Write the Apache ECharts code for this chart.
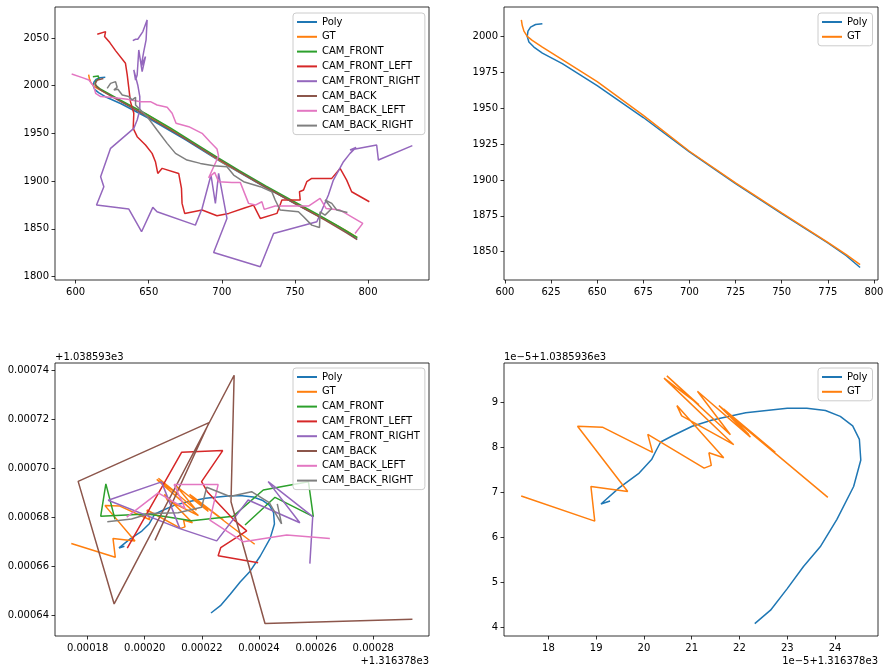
<!DOCTYPE html>
<html><head><meta charset="utf-8">
<script src="https://cdn.jsdelivr.net/npm/echarts@6/dist/echarts.min.js"></script>
<style>html,body{margin:0;padding:0;background:#fff}#c{width:883px;height:667px}</style>
</head><body><div id="c"></div>
<script>
// ---------- series names / colours ----------
const names = ['Poly','GT','CAM_FRONT','CAM_FRONT_LEFT','CAM_FRONT_RIGHT','CAM_BACK','CAM_BACK_LEFT','CAM_BACK_RIGHT'];
const colors = ['#1f77b4','#ff7f0e','#2ca02c','#d62728','#9467bd','#8c564b','#e377c2','#7f7f7f'];

// ---------- top plots (raw coordinates) ----------
const polyTop = [[620.3,2008.8],[616.6,2008.3],[613.9,2006.5],[612.5,2003.7],[612.1,2000.0],[613.0,1996.1],[615.7,1992.6],[620.3,1988.4],[631.1,1981.0],[650.0,1965.8],[675.0,1943.5],[700.0,1919.5],[725.0,1897.5],[750.0,1876.5],[775.0,1856.2],[785.0,1847.2],[792.5,1839.0]];
const gtTop = [[608.9,2011.6],[609.4,2007.6],[610.3,2003.7],[612.1,2000.0],[614.8,1997.2],[620.3,1992.6],[631.1,1983.8],[650.0,1968.5],[675.0,1945.0],[700.0,1920.0],[725.0,1898.0],[750.0,1877.0],[775.0,1856.5],[785.0,1848.0],[792.5,1841.0]];
const frontTop = [[611.8,2009.4],[615.5,2010.1],[615.9,2007.0],[613.9,2005.2],[613.4,2000.7],[617.1,1996.2],[630.0,1985.2],[648.0,1970.6],[665.0,1955.4],[683.0,1938.2],[697.0,1924.8],[712.0,1910.8],[730.0,1895.0],[748.0,1879.8],[765.0,1865.6],[780.0,1852.6],[792.7,1840.8]];
const frontLeftTop = [[614.8,2053.8],[620.5,2056.6],[619.8,2051.4],[623.4,2045.1],[627.3,2036.7],[634.1,2023.4],[635.3,2011.2],[636.4,1997.2],[637.5,1983.2],[639.8,1971.0],[639.4,1955.2],[642.1,1946.5],[647.8,1937.8],[652.3,1929.0],[654.6,1920.3],[656.2,1908.0],[659.2,1913.3],[670.5,1908.0],[672.4,1892.3],[672.8,1876.6],[674.6,1866.1],[686.5,1869.6],[696.7,1863.6],[704.7,1866.1],[716.0,1872.0],[721.7,1874.8],[726.3,1860.8],[737.7,1866.1],[741.1,1880.1],[753.6,1880.1],[753.1,1888.8],[755.9,1890.6],[758.1,1899.3],[761.5,1902.8],[775.2,1902.8],[780.9,1913.3],[785.4,1901.0],[788.8,1888.8],[800.9,1878.3]];
const frontRightTop = [[639.1,2047.2],[641.0,2048.6],[642.5,2048.6],[646.0,2056.6],[648.9,2068.9],[648.2,2047.9],[646.6,2035.7],[644.8,2019.9],[647.8,2030.4],[645.5,2014.7],[643.2,2037.4],[642.1,2011.2],[641.0,2005.9],[639.8,2016.4],[642.5,2000.7],[643.9,1988.5],[643.9,1974.5],[642.1,1964.0],[639.8,1955.2],[623.9,1934.3],[617.1,1904.5],[619.3,1894.1],[614.3,1874.8],[636.4,1870.6],[645.1,1846.9],[652.8,1872.4],[655.7,1867.8],[681.9,1853.8],[686.5,1871.3],[692.6,1906.3],[695.6,1876.6],[697.8,1908.0],[703.5,1860.8],[694.4,1825.2],[726.3,1810.1],[735.4,1845.1],[765.0,1857.3],[772.9,1885.3],[776.3,1901.0],[783.2,1920.3],[787.7,1929.0],[791.8,1935.3],[787.7,1932.5],[805.9,1937.8],[807.1,1922.0],[830.3,1937.1]];
const backTop = [[619.0,2007.5],[615.0,2006.0],[613.3,2002.5],[614.5,1998.5],[618.0,1994.5],[630.0,1984.0],[650.0,1967.0],[670.0,1949.0],[690.0,1930.0],[710.0,1911.5],[730.0,1893.5],[750.0,1876.5],[770.0,1859.5],[785.0,1846.0],[792.6,1838.7]];
const backLeftTop = [[597.3,2012.2],[604.6,2008.4],[609.1,2005.9],[612.5,1999.0],[613.7,1992.0],[617.1,1988.5],[623.9,1987.8],[635.3,1985.7],[644.4,1983.2],[651.2,1983.2],[655.7,1979.7],[662.6,1977.3],[666.0,1971.0],[668.7,1960.5],[677.4,1957.0],[686.5,1950.0],[692.2,1940.6],[696.7,1933.6],[697.8,1926.2],[691.0,1903.5],[695.1,1909.1],[697.8,1899.3],[706.9,1898.6],[712.6,1898.6],[718.3,1876.6],[722.9,1874.8],[727.4,1878.3],[729.0,1870.3],[736.5,1873.8],[759.3,1873.8],[767.2,1881.8],[771.3,1871.3],[780.9,1869.6],[796.4,1855.6],[791.1,1845.1]];
const backRightTop = [[621.6,1997.2],[623.9,2002.4],[627.3,2004.2],[628.4,1998.3],[626.2,1995.5],[628.9,1996.2],[631.9,1990.2],[636.4,1988.5],[638.7,1985.0],[641.0,1987.8],[641.0,1979.7],[643.2,1976.2],[648.9,1967.5],[655.7,1953.5],[662.6,1939.5],[668.3,1929.0],[676.2,1922.0],[685.3,1918.5],[694.4,1916.1],[703.5,1915.0],[708.1,1906.3],[714.9,1899.3],[726.3,1894.1],[734.2,1888.8],[736.5,1880.1],[739.9,1869.6],[752.4,1867.8],[755.9,1862.6],[761.5,1853.8],[766.8,1851.4],[767.2,1867.8],[770.6,1864.3],[775.2,1871.3],[770.6,1880.1],[775.2,1876.6],[778.6,1869.6],[785.9,1867.1]];

// ---------- bottom plots: x = 1e-5 units above 1316.378, y = 1e-5 units above 1038.593 ----------
const polyBot = [[19.29,66.81],[19.10,66.74],[19.48,67.10],[19.90,67.43],[20.16,67.73],[20.25,67.92],[20.35,68.12],[20.60,68.26],[21.01,68.47],[21.43,68.61],[22.13,68.77],[23.00,68.87],[23.41,68.87],[23.80,68.82],[24.11,68.69],[24.37,68.48],[24.51,68.18],[24.54,67.72],[24.39,67.13],[24.04,66.40],[23.69,65.79],[23.34,65.35],[23.00,64.86],[22.65,64.38],[22.32,64.08]];
const gtBot = [[17.43,66.92],[18.97,66.36],[18.89,67.13],[19.66,67.02],[18.61,68.47],[19.13,68.45],[20.18,67.89],[20.08,68.29],[21.26,67.54],[21.41,67.60],[21.36,67.88],[21.67,67.77],[20.69,68.93],[20.79,68.70],[21.88,68.06],[20.42,69.54],[21.15,68.95],[20.48,69.59],[21.81,68.28],[21.12,69.25],[22.23,68.23],[21.57,68.93],[22.75,67.89],[21.67,68.85],[22.20,68.28],[21.78,68.73],[23.85,66.89]];
const frontBot = [[18.96,67.91],[18.64,69.36],[18.46,68.04],[20.07,68.13],[20.53,68.06],[21.64,67.85],[23.10,68.04],[24.15,69.11],[25.73,69.45],[25.90,68.02],[24.56,68.81],[23.51,67.68]];
const frontLeftBot = [[19.39,66.73],[21.29,70.65],[22.73,70.72],[21.99,69.45],[22.19,69.04],[23.10,67.91],[23.57,67.44],[22.66,66.75],[22.57,66.42],[23.97,66.13]];
const frontRightBot = [[21.23,67.53],[18.72,68.69],[20.59,69.44],[21.23,67.53],[22.52,67.03],[23.62,68.70],[25.43,67.77],[24.32,69.45],[25.88,68.02],[25.78,66.10]];
const backBot = [[20.36,67.05],[22.25,71.86],[17.67,69.46],[18.93,64.45],[23.13,73.80],[23.02,68.63],[24.21,63.65],[29.37,63.82]];
const backLeftBot = [[19.37,68.00],[20.47,68.99],[21.41,68.36],[21.03,69.33],[22.57,69.33],[22.28,67.88],[23.45,66.99],[24.97,67.27],[26.48,67.13]];
const backRightBot = [[18.69,67.81],[19.54,67.92],[20.18,68.15],[21.17,68.18],[21.99,68.40],[22.17,69.22],[22.98,68.84],[23.74,69.04],[24.36,68.59],[24.79,67.72],[24.64,68.54]];

// ---------- tick values ----------
const tlXTicks = [600,650,700,750,800];
const tlYTicks = [1800,1850,1900,1950,2000,2050];
const trXTicks = [600,625,650,675,700,725,750,775,800];
const trYTicks = [1850,1875,1900,1925,1950,1975,2000];
const blXTicks = [18,20,22,24,26,28];
const blYTicks = [64,66,68,70,72,74];
const brXTicks = [18,19,20,21,22,23,24];
const brYTicks = [64,65,66,67,68,69];
const offsetTexts = ['+1.038593e3','+1.316378e3','1e\u22125+1.0385936e3','1e\u22125+1.316378e3'];

// ---------- chart ----------
const FONT = 'DejaVu Sans';
const colorOf = {}; names.forEach((n,i)=>colorOf[n]=colors[i]);
const grids = [
  {left:55, top:7, width:374, height:273},
  {left:504, top:7, width:374, height:273},
  {left:55, top:363, width:374, height:273},
  {left:504, top:363, width:374, height:273}
].map(g=>Object.assign(g,{show:true, borderColor:'#000', borderWidth:0.8, containLabel:false, outerBoundsMode:'none', backgroundColor:'#fff'}));

function axis(gi, min, max, ticks, fmt, isX){
  return {
    type:'value', gridIndex:gi, min:min, max:max, scale:true,
    axisLine:{show:false},
    splitLine:{show:false},
    axisTick:{show:true, length:3.5, inside:false, customValues:ticks, lineStyle:{color:'#000', width:0.8}},
    axisLabel:{show:true, customValues:ticks, formatter:fmt, margin:isX?7:6, fontFamily:FONT, fontSize:10, color:'#000', showMinLabel:true, showMaxLabel:true}
  };
}
const fmtInt = v => String(Math.round(v));
const fmtBl = v => (v*1e-5).toFixed(5);
const fmtBrY = v => String(Math.round(v-60));

const xAxes = [
  axis(0, 585.9, 841.7, tlXTicks, fmtInt, true),
  axis(1, 599.5, 802.2, trXTicks, fmtInt, true),
  axis(2, 16.86, 29.95, blXTicks, fmtBl, true),
  axis(3, 17.07, 24.90, brXTicks, fmtInt, true)
];
const yAxes = [
  axis(0, 1796.3, 2082.4, tlYTicks, fmtInt, false),
  axis(1, 1830.3, 2020.5, trYTicks, fmtInt, false),
  axis(2, 63.14, 74.30, blYTicks, fmtBl, false),
  axis(3, 63.806, 69.877, brYTicks, fmtBrY, false)
];

function line(name, data, gi){
  return {type:'line', name:name, data:data, xAxisIndex:gi, yAxisIndex:gi,
    showSymbol:false, symbol:'none', smooth:false, clip:true, silent:true,
    lineStyle:{width:1.5, color:colorOf[name]}, itemStyle:{color:colorOf[name]},
    emphasis:{disabled:true}, animation:false};
}
const topCams = [frontTop, frontLeftTop, frontRightTop, backTop, backLeftTop, backRightTop];
const botCams = [frontBot, frontLeftBot, frontRightBot, backBot, backLeftBot, backRightBot];
const series = [];
series.push(line('Poly', polyTop, 0), line('GT', gtTop, 0));
topCams.forEach((d,i)=>series.push(line(names[i+2], d, 0)));
series.push(line('Poly', polyTop, 1), line('GT', gtTop, 1));
series.push(line('Poly', polyBot, 2), line('GT', gtBot, 2));
botCams.forEach((d,i)=>series.push(line(names[i+2], d, 2)));
series.push(line('Poly', polyBot, 3), line('GT', gtBot, 3));

function legend(data, left, top){
  return {data:data.map(n=>({name:n, icon:'rect'})), orient:'vertical', left:left, top:top,
    itemWidth:20, itemHeight:2, itemGap:4.8, selectedMode:false,
    padding:[4,5,4,4], backgroundColor:'rgba(255,255,255,0.8)', borderColor:'#cccccc', borderWidth:1, borderRadius:3,
    textStyle:{fontFamily:FONT, fontSize:10, color:'#000'}};
}
const legends = [
  legend(names, 293, 13),
  legend(['Poly','GT'], 818, 13),
  legend(names, 293, 368),
  legend(['Poly','GT'], 818, 368)
];

function txt(s, x, y, align){
  return {type:'text', x:x, y:y, silent:true, z:10,
    style:{text:s, font:'10px "DejaVu Sans"', fill:'#000', align:align, verticalAlign:'middle'}};
}
const graphics = [
  txt(offsetTexts[0], 55, 357, 'left'),
  txt(offsetTexts[1], 429, 661, 'right'),
  txt(offsetTexts[2], 504, 357, 'left'),
  txt(offsetTexts[3], 878, 661, 'right')
];

const chart = echarts.init(document.getElementById('c'), null, {renderer:'canvas'});
chart.setOption({
  animation:false,
  backgroundColor:'#fff',
  grid:grids, xAxis:xAxes, yAxis:yAxes,
  legend:legends, series:series, graphic:graphics,
  tooltip:{show:false}
});
</script>
</body></html>
